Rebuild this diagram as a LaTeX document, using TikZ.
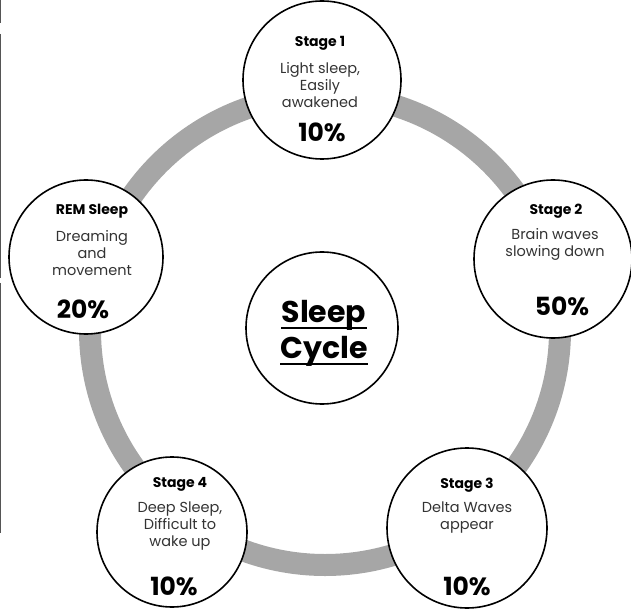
\documentclass[tikz,border=0pt]{standalone}
\usepackage{fontspec}
\setmainfont{Poppins}
\usetikzlibrary{calc}
\definecolor{ringgray}{RGB}{166,166,166}
\definecolor{edgegray}{RGB}{85,85,85}
\tikzset{
  stagecircle/.style={circle,draw=black,line width=1.6pt,fill=white,inner sep=0pt},
  stagetitle/.style={font=\fontsize{14}{16}\selectfont\bfseries,anchor=base,inner sep=0pt},
  stagetext/.style={font=\fontsize{14.5}{17}\selectfont,text=black!80,align=center,inner sep=0pt},
  stagepct/.style={font=\fontsize{25}{28}\selectfont\bfseries,anchor=base,inner sep=0pt},
  hubtext/.style={font=\fontsize{30}{34}\selectfont\bfseries,anchor=base,inner sep=0pt},
}

\begin{document}
\begin{tikzpicture}[x=1pt,y=1pt]
\useasboundingbox (0,0) rectangle (631,-609);
\coordinate (O) at (325,-330);
% page edge marks
\draw[edgegray,line width=1.5pt] (0.5,0) -- (0.5,-23);
\draw[edgegray,line width=1.5pt] (0.5,-34) -- (0.5,-278);
\draw[edgegray,line width=1.5pt] (0.5,-283) -- (0.5,-533);
% ring
\draw[ringgray,line width=22pt] (O) circle (235);
% stages
\node[stagecircle,minimum size=158pt] (s1) at (322,-80) {};
\node[stagecircle,minimum size=158pt] (s2) at (553,-259) {};
\node[stagecircle,minimum size=160pt] (s3) at (467,-528) {};
\node[stagecircle,minimum size=150pt] (s4) at (172,-532) {};
\node[stagecircle,minimum size=154pt] (rem) at (86,-257) {};
\node[stagecircle,minimum size=152pt] (hub) at (322,-328) {};
% stage 1
\node[stagetitle] (s1t) at ($(s1)+(-2,33)$) {Stage 1};
\node[stagetext] (s1d) at ($(s1)+(-2,-5.5)$) {Light sleep,\\Easily\\awakened};
\node[stagepct] (s1p) at ($(s1)+(0,-62)$) {10\%};
% stage 2
\node[stagetitle] (s2t) at ($(s2)+(3,44)$) {Stage 2};
\node[stagetext] (s2d) at ($(s2)+(2,14.5)$) {Brain waves\\slowing down};
\node[stagepct] (s2p) at ($(s2)+(9,-56)$) {50\%};
% stage 3
\node[stagetitle] (s3t) at ($(s3)+(0,40)$) {Stage 3};
\node[stagetext] (s3d) at ($(s3)+(0,10.5)$) {Delta Waves\\appear};
\node[stagepct] (s3p) at ($(s3)+(0,-67)$) {10\%};
% stage 4
\node[stagetitle] (s4t) at ($(s4)+(8,45)$) {Stage 4};
\node[stagetext] (s4d) at ($(s4)+(8,5.5)$) {Deep Sleep,\\Difficult to\\wake up};
\node[stagepct] (s4p) at ($(s4)+(2,-63)$) {10\%};
% REM
\node[stagetitle] (remt) at ($(rem)+(6,42)$) {REM Sleep};
\node[stagetext] (remd) at ($(rem)+(6,4)$) {Dreaming\\and\\movement};
\node[stagepct] (remp) at ($(rem)+(-3,-61)$) {20\%};
% centre
\node[hubtext] (sleep) at (324,-322) {Sleep};
\node[hubtext] (cycle) at (324,-358) {Cycle};
\draw[line width=1.8pt] ([yshift=-6pt]sleep.base west) -- ([yshift=-6pt]sleep.base east);
\draw[line width=1.8pt] ([yshift=-6pt]cycle.base west) -- ([yshift=-6pt]cycle.base east);
\end{tikzpicture}
\end{document}
